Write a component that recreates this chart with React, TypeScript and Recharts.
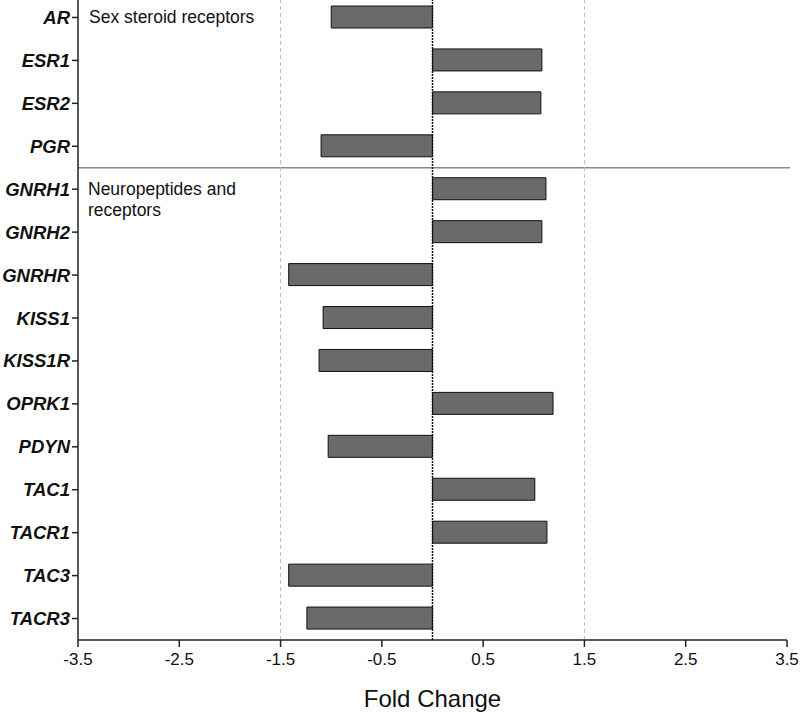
import { BarChart, Bar, XAxis, YAxis, ReferenceLine, ReferenceArea } from 'recharts';

const genes = ['AR', 'ESR1', 'ESR2', 'PGR', 'GNRH1', 'GNRH2', 'GNRHR', 'KISS1', 'KISS1R', 'OPRK1', 'PDYN', 'TAC1', 'TACR1', 'TAC3', 'TACR3'];
const foldChange = [-1.0, 1.08, 1.07, -1.1, 1.12, 1.08, -1.42, -1.08, -1.12, 1.19, -1.03, 1.01, 1.13, -1.42, -1.24];
const xTicks = [-3.5, -2.5, -1.5, -0.5, 0.5, 1.5, 2.5, 3.5];
// last gene of the first group, first gene of the second
const groupEdge = ['PGR', 'GNRH1'];

const chartData = genes.map((g, i) => ({ gene: g, fc: foldChange[i] }));

const font = 'Arial, "Liberation Sans", Helvetica, sans-serif';

const GeneTick = ({ x, y, payload }: any) => (
  <text x={x} y={y} dy={6.5} textAnchor="end" fontFamily={font} fontSize={18.5} fontWeight="bold" fontStyle="italic" fill="#111">
    {payload.value}
  </text>
);

const ValueTick = ({ x, y, payload }: any) => (
  <text x={x} y={y} dy={16} textAnchor="middle" fontFamily={font} fontSize={17} fill="#111">
    {payload.value.toFixed(1)}
  </text>
);

const AxisTitle = ({ viewBox }: any) => (
  <text x={viewBox.x + viewBox.width / 2} y={viewBox.y + 67} textAnchor="middle" fontFamily={font} fontSize={24} fill="#111">
    Fold Change
  </text>
);

// separator drawn through the middle of the two bands
const Separator = ({ x, y, width, height }: any) => (
  <line x1={x} x2={x + width + 3} y1={y + height / 2} y2={y + height / 2} stroke="#888" strokeWidth={1.5} />
);

export default function App() {
  return (
    <div style={{ position: 'absolute', top: 0, left: 0, width: 800, height: 714, background: '#fff', fontFamily: font }}>
      <BarChart
        width={800}
        height={714}
        data={chartData}
        layout="vertical"
        margin={{ top: -4, right: 13, left: 0, bottom: 0 }}
      >
        <XAxis
          type="number"
          domain={[-3.5, 3.5]}
          ticks={xTicks}
          height={74}
          tick={<ValueTick />}
          tickSize={7}
          axisLine={{ stroke: '#222', strokeWidth: 1.5 }}
          tickLine={{ stroke: '#222', strokeWidth: 1.5 }}
          label={<AxisTitle />}
        />
        <YAxis
          type="category"
          dataKey="gene"
          width={78}
          tick={<GeneTick />}
          tickSize={6}
          interval={0}
          axisLine={{ stroke: '#222', strokeWidth: 1.5 }}
          tickLine={{ stroke: '#222', strokeWidth: 1.5 }}
        />
        <ReferenceLine x={-1.5} stroke="#bbb" strokeDasharray="4 3" />
        <ReferenceLine x={1.5} stroke="#bbb" strokeDasharray="4 3" />
        <ReferenceArea y1={groupEdge[0]} y2={groupEdge[1]} shape={<Separator />} ifOverflow="visible" />
        <Bar dataKey="fc" fill="#6a6a6a" stroke="#111" strokeWidth={1} barSize={22} isAnimationActive={false} />
        <ReferenceLine x={0} stroke="#111" strokeWidth={1.5} strokeDasharray="2 1" />
      </BarChart>
      <div style={{ position: 'absolute', left: 89, top: 7, fontSize: 17.5, lineHeight: '21px', color: '#111' }}>Sex steroid receptors</div>
      <div style={{ position: 'absolute', left: 88, top: 179, fontSize: 17.5, lineHeight: '21px', color: '#111' }}>
        Neuropeptides and
        <br />
        receptors
      </div>
    </div>
  );
}
